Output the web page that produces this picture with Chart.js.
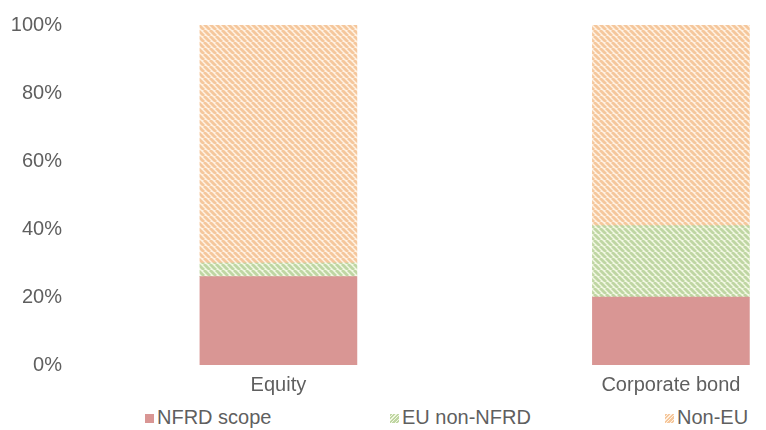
<!DOCTYPE html>
<html>
<head>
<meta charset="utf-8">
<script src="https://cdn.jsdelivr.net/npm/chart.js@4.4.1/dist/chart.umd.min.js"></script>
<style>
  html, body { margin: 0; padding: 0; background: #fff; }
  #wrap { position: relative; width: 766px; height: 430px; }
  #box { position: absolute; left: 0; top: 0; width: 766px; height: 400px; }
  #legend { position: absolute; left: 0; top: 400px; width: 766px; height: 30px;
            font-family: 'Liberation Sans', Arial, sans-serif; font-size: 20px; color: #5f5f5f; }
  .item { position: absolute; top: 4px; line-height: 26px; white-space: nowrap; }
  .sw { display: inline-block; width: 9px; height: 9px; margin-right: 3px; vertical-align: 1px; }
</style>
</head>
<body>
<div id="wrap">
  <div id="box"><canvas id="chart"></canvas></div>
  <div id="legend"></div>
</div>
<script>
// chart values (percent of total)
const categories = ['Equity', 'Corporate bond'];
const nfrdScope = [26, 20];
const euNonNfrd = [4, 21];
const nonEu = [70, 59];
const yTicks = [0, 20, 40, 60, 80, 100];

const seriesNames = ['NFRD scope', 'EU non-NFRD', 'Non-EU'];
const legendLeft = [145, 390, 665];

// diagonal hatch like the excel "wide downward diagonal" fill
function hatch(line, back) {
    const c = document.createElement('canvas');
    c.width = 6; c.height = 6;
    const g = c.getContext('2d');
    g.fillStyle = back;
    g.fillRect(0, 0, 6, 6);
    g.strokeStyle = line;
    g.lineWidth = 2.8;
    [-6, 0, 6].forEach(k => {
        g.beginPath();
        g.moveTo(k, 0);
        g.lineTo(k + 6, 6);
        g.stroke();
    });
    return g.createPattern(c, 'repeat');
}

const pink = '#d99694';
const greenHatch = hatch('#bfd6a3', '#f3f8e4');
const orangeHatch = hatch('#f5c79c', '#fff2e4');

function points(values) {
    return categories.map((c, i) => ({ x: i, y: values[i] }));
}

const ctx = document.getElementById('chart').getContext('2d');
new Chart(ctx, {
    type: 'bar',
    data: {
        datasets: [
            { label: seriesNames[0], data: points(nfrdScope), backgroundColor: pink },
            { label: seriesNames[1], data: points(euNonNfrd), backgroundColor: greenHatch },
            { label: seriesNames[2], data: points(nonEu), backgroundColor: orangeHatch }
        ]
    },
    options: {
        responsive: true,
        maintainAspectRatio: false,
        animation: false,
        layout: { padding: { top: 25, right: 6, left: 0, bottom: 0 } },
        datasets: { bar: { barThickness: 157, borderWidth: 0 } },
        scales: {
            x: {
                type: 'linear',
                stacked: true,
                offset: false,
                min: -0.531,
                max: 1.227,
                grid: { display: false, drawTicks: false, offset: false },
                border: { display: false },
                afterBuildTicks: s => { s.ticks = categories.map((c, i) => ({ value: i })); },
                afterFit: s => { s.height = 35; },
                ticks: {
                    autoSkip: false,
                    maxRotation: 0,
                    padding: 8,
                    color: '#5f5f5f',
                    font: { family: "'Liberation Sans', Arial, sans-serif", size: 20 },
                    callback: v => categories[v]
                }
            },
            y: {
                stacked: true,
                min: 0,
                max: 100,
                grid: { display: false, drawTicks: false },
                border: { display: false },
                afterBuildTicks: s => { s.ticks = yTicks.map(v => ({ value: v })); },
                afterFit: s => { s.width = 70; },
                ticks: {
                    padding: 8,
                    color: '#5f5f5f',
                    font: { family: "'Liberation Sans', Arial, sans-serif", size: 20 },
                    callback: v => v + '%'
                }
            }
        },
        plugins: {
            legend: { display: false },
            tooltip: { enabled: false }
        }
    }
});

// legend underneath, spaced like the original
const legendSwatch = [
    'background:' + pink,
    'background:repeating-linear-gradient(-45deg,#f3f8e4 0 1px,#bfd6a3 1px 2.5px)',
    'background:repeating-linear-gradient(-45deg,#fff2e4 0 1px,#f5c79c 1px 2.5px)'
];
const legendEl = document.getElementById('legend');
seriesNames.forEach((name, i) => {
    const item = document.createElement('div');
    item.className = 'item';
    item.style.left = legendLeft[i] + 'px';
    item.innerHTML = `<span class="sw" style="${legendSwatch[i]}"></span>${name}`;
    legendEl.appendChild(item);
});
</script>
</body>
</html>
